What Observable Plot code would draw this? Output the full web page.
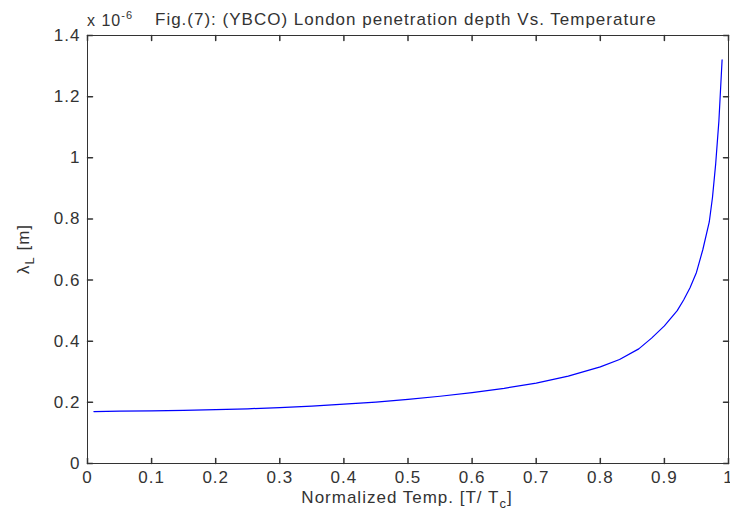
<!DOCTYPE html>
<html><head><meta charset="utf-8">
<script src="https://cdn.jsdelivr.net/npm/d3@7"></script>
<script src="https://cdn.jsdelivr.net/npm/@observablehq/plot@0.6"></script>
<style>body{margin:0;background:#fff;} #chart svg{display:block;} #chart svg g[aria-label$="tick label"] text{letter-spacing:1px;}</style>
</head><body><div id="chart"></div>
<script>
// Normalized temperature T/Tc
const temps = [0.01, 0.05, 0.10, 0.15, 0.20, 0.25, 0.30, 0.35, 0.40, 0.45, 0.50, 0.55, 0.60, 0.65, 0.70, 0.75, 0.80, 0.83, 0.86, 0.88, 0.90, 0.92, 0.93, 0.94, 0.95, 0.96, 0.97, 0.975, 0.98, 0.985, 0.99];
// London penetration depth, in units of 1e-6 m
const depths = [0.170, 0.171, 0.172, 0.174, 0.176, 0.179, 0.183, 0.188, 0.194, 0.201, 0.210, 0.220, 0.232, 0.246, 0.263, 0.286, 0.316, 0.340, 0.375, 0.410, 0.450, 0.500, 0.535, 0.575, 0.625, 0.700, 0.790, 0.870, 0.980, 1.120, 1.320];
const xTicks = [0, 0.1, 0.2, 0.3, 0.4, 0.5, 0.6, 0.7, 0.8, 0.9, 1];
const yTicks = [0, 0.2, 0.4, 0.6, 0.8, 1, 1.2, 1.4];
const titleText = "Fig.(7): (YBCO) London penetration depth Vs. Temperature";
const exponentBase = "x 10";
const exponentPow = "-6";
const xLabelMain = "Normalized Temp. [T/ T";
const xLabelSub = "c";
const xLabelEnd = "]";
const yLabelMain = "\u03BB";
const yLabelSub = "L";
const yLabelEnd = " [m]";

const FONT = "'Liberation Sans', Arial, sans-serif";
const INK = "#333";
const data = temps.map((t, i) => ({t, v: depths[i]}));
const tickLine = {draw(ctx, l) { ctx.moveTo(0, 0); ctx.lineTo(0, -l); }};
const TL = 5;

const plot = Plot.plot({
  width: 730, height: 514,
  marginLeft: 87, marginRight: 2, marginTop: 35, marginBottom: 51,
  x: {domain: [0, 1]},
  y: {domain: [0, 1.4]},
  style: {fontFamily: FONT, fontSize: "17px", color: INK, background: "#fff"},
  marks: [
    Plot.frame({stroke: INK}),
    Plot.axisX(xTicks, {tickSize: 0, tickPadding: 7, label: null, tickFormat: d => String(d), fill: INK}),
    Plot.axisY(yTicks, {tickSize: 0, tickPadding: 7, label: null, tickFormat: d => String(d), fill: INK}),
    Plot.vector(xTicks, {x: d => d, frameAnchor: "bottom", length: TL, anchor: "start", rotate: 0, shape: tickLine, stroke: INK}),
    Plot.vector(xTicks, {x: d => d, frameAnchor: "top", length: TL, anchor: "start", rotate: 180, shape: tickLine, stroke: INK}),
    Plot.vector(yTicks, {y: d => d, frameAnchor: "left", length: TL, anchor: "start", rotate: 90, shape: tickLine, stroke: INK}),
    Plot.vector(yTicks, {y: d => d, frameAnchor: "right", length: TL, anchor: "start", rotate: -90, shape: tickLine, stroke: INK}),
    Plot.line(data, {x: "t", y: "v", stroke: "#0000ff", strokeWidth: 1.2})
  ]
});
document.getElementById("chart").appendChild(plot);

const svg = d3.select(plot);
const g = svg.append("g").attr("fill", INK).attr("text-anchor", "start").style("font-family", FONT).style("letter-spacing", "1px");
// exponent
const ex = g.append("text").attr("x", 87).attr("y", 26).style("font-size", "16px");
ex.append("tspan").text(exponentBase);
ex.append("tspan").attr("dy", -7).style("font-size", "11px").text(exponentPow);
// title
g.append("text").attr("x", 155).attr("y", 25).style("font-size", "17px").text(titleText);
// x label
const xl = g.append("text").attr("x", 407).attr("y", 503).attr("text-anchor", "middle").style("font-size", "17px");
xl.append("tspan").text(xLabelMain);
xl.append("tspan").attr("dy", 5).style("font-size", "13px").text(xLabelSub);
xl.append("tspan").attr("dy", -5).text(xLabelEnd);
// y label
const yl = g.append("text").attr("transform", "translate(29,249) rotate(-90)").attr("text-anchor", "middle").style("font-size", "17px");
yl.append("tspan").text(yLabelMain);
yl.append("tspan").attr("dy", 5).style("font-size", "13px").text(yLabelSub);
yl.append("tspan").attr("dy", -5).text(yLabelEnd);
</script>
</body></html>
